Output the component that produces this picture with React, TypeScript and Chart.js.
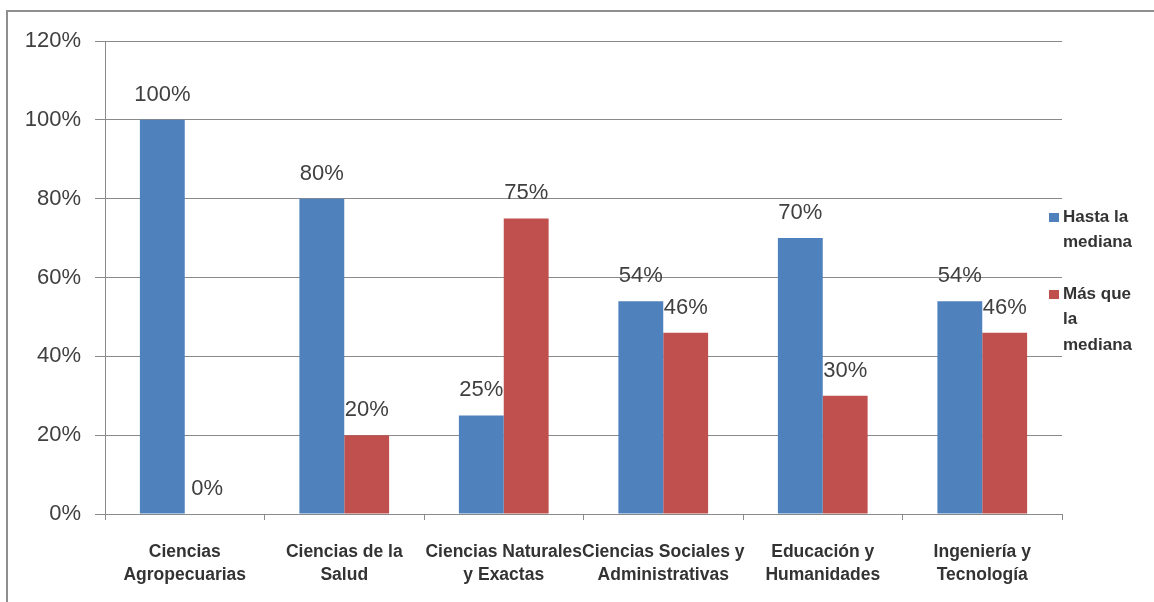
import React, { useEffect, useRef } from "react";
import { Chart, registerables } from "chart.js";

Chart.register(...registerables);

const categories: string[][] = [
  ["Ciencias", "Agropecuarias"],
  ["Ciencias de la", "Salud"],
  ["Ciencias Naturales", "y Exactas"],
  ["Ciencias Sociales y", "Administrativas"],
  ["Educación y", "Humanidades"],
  ["Ingeniería y", "Tecnología"],
];
const hastaMediana: number[] = [100, 80, 25, 54, 70, 54];
const masQueMediana: number[] = [0, 20, 75, 46, 30, 46];
const seriesNames: string[][] = [["Hasta la", "mediana"], ["Más que", "la", "mediana"]];
const yTicks: number[] = [0, 20, 40, 60, 80, 100, 120];

const BLUE = "#4F81BD";
const RED = "#C0504D";
const GRID = "#8a8a8a";
const TEXT = "#404040";
const FONT = "'Liberation Sans', Arial, sans-serif";

const dataLabelPlugin = {
  id: "dataLabels",
  afterDatasetsDraw(chart: any) {
    const ctx = chart.ctx;
    ctx.save();
    ctx.font = `22px ${FONT}`;
    ctx.fillStyle = TEXT;
    ctx.textAlign = "center";
    ctx.textBaseline = "alphabetic";
    chart.data.datasets.forEach((ds: any, di: number) => {
      const meta = chart.getDatasetMeta(di);
      meta.data.forEach((bar: any, i: number) => {
        const v = ds.data[i];
        ctx.fillText(`${v}%`, bar.x, bar.y - 19);
      });
    });
    ctx.restore();
  },
};

const legendPlugin = {
  id: "sideLegend",
  afterDraw(chart: any) {
    const ctx = chart.ctx;
    ctx.save();
    ctx.font = `bold 17px ${FONT}`;
    ctx.textAlign = "left";
    ctx.textBaseline = "middle";
    const colors = [BLUE, RED];
    const starts = [217, 294];
    const x0 = chart.chartArea.right - 13;
    seriesNames.forEach((lines, si) => {
      ctx.fillStyle = colors[si];
      ctx.fillRect(x0, starts[si] - 4, 10, 9);
      ctx.fillStyle = "#333333";
      lines.forEach((ln, li) => {
        ctx.fillText(ln, x0 + 14, starts[si] + li * 25.5);
      });
    });
    ctx.restore();
  },
};

export default function App() {
  const ref = useRef<HTMLCanvasElement | null>(null);
  useEffect(() => {
    if (!ref.current) return;
    const chart = new Chart(ref.current, {
      type: "bar",
      data: {
        labels: categories,
        datasets: [
          {
            label: seriesNames[0].join(" "),
            data: hastaMediana,
            backgroundColor: BLUE,
            categoryPercentage: 0.5625,
            barPercentage: 1,
          },
          {
            label: seriesNames[1].join(" "),
            data: masQueMediana,
            backgroundColor: RED,
            categoryPercentage: 0.5625,
            barPercentage: 1,
          },
        ],
      },
      options: {
        responsive: false,
        animation: false,
        layout: { padding: { left: 0, top: 41, right: 92, bottom: 0 } },
        plugins: {
          legend: { display: false },
          tooltip: { enabled: false },
        },
        scales: {
          y: {
            min: 0,
            max: 120,
            afterFit: (s: any) => {
              s.width = 105;
            },
            afterBuildTicks: (s: any) => {
              s.ticks = yTicks.map((v) => ({ value: v }));
            },
            ticks: {
              callback: (v: any) => `${v}%`,
              font: { family: FONT, size: 22 },
              color: TEXT,
              padding: 14,
            },
            grid: { color: GRID, tickLength: 10, lineWidth: 1 },
            border: { color: GRID, width: 1 },
          },
          x: {
            afterFit: (s: any) => {
              s.height = 88;
            },
            ticks: {
              font: { family: FONT, size: 17.5, weight: "bold", lineHeight: 1.32 },
              color: "#333333",
              padding: 21,
              maxRotation: 0,
              autoSkip: false,
            },
            grid: { drawOnChartArea: false, drawTicks: true, tickLength: 6, color: GRID },
            border: { color: GRID, width: 1 },
          },
        },
      },
      plugins: [dataLabelPlugin, legendPlugin],
    } as any);
    return () => chart.destroy();
  }, []);
  return (
    <div style={{ position: "fixed", left: 0, top: 0, width: 1154, height: 602, overflow: "hidden", background: "#fff" }}>
      <div
        style={{
          position: "absolute",
          left: 6,
          top: 10,
          width: 1300,
          height: 800,
          border: "2px solid #8f8f8f",
          boxSizing: "border-box",
        }}
      />
      <canvas ref={ref} width={1154} height={602} style={{ position: "absolute", left: 0, top: 0 }} />
    </div>
  );
}
